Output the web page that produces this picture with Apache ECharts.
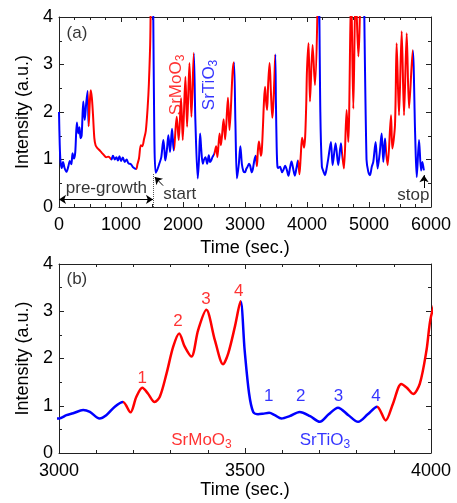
<!DOCTYPE html>
<html>
<head>
<meta charset="utf-8">
<script src="https://cdn.jsdelivr.net/npm/echarts@6/dist/echarts.min.js"></script>
<style>
html, body { margin: 0; padding: 0; background: #fff; }
#main { width: 457px; height: 503px; }
</style>
</head>
<body>
<div id="main"></div>
<script>
// RHEED intensity trace; panel (b) is a zoom of the same trace
var timeSec = [0, 12, 25, 45, 65, 90, 120, 150, 175, 200, 218, 240, 262, 288, 310, 330, 348, 365, 392, 415,
    440, 462, 478, 497, 512, 530, 548, 570, 590, 620, 650, 690, 720, 760, 800, 845, 870, 900, 925, 950,
    975, 1000, 1030, 1060, 1090, 1120, 1160, 1200, 1245, 1265, 1290, 1320, 1345, 1370, 1400, 1430, 1450, 1473, 1498, 1540,
    1560, 1590, 1618, 1650, 1683, 1700, 1715, 1740, 1764, 1791, 1823, 1850, 1862, 1899, 1931, 1969, 1996, 2039, 2066, 2104,
    2136, 2174, 2200, 2238, 2258, 2276, 2295, 2319, 2340, 2362, 2389, 2416, 2435, 2454, 2475, 2505, 2535, 2555, 2590, 2612,
    2655, 2680, 2725, 2750, 2800, 2822, 2845, 2870, 2900, 2925, 2950, 2975, 3000, 3020, 3038, 3065, 3083, 3109, 3127, 3150,
    3172, 3192, 3208, 3224, 3239, 3257, 3271, 3289, 3307, 3323, 3338, 3356, 3374, 3396, 3419, 3441, 3455, 3473, 3488, 3499,
    3511, 3522, 3535, 3548, 3565, 3580, 3598, 3620, 3647, 3675, 3701, 3725, 3750, 3778, 3804, 3830, 3855, 3878, 3898, 3920,
    3935, 3952, 3970, 3988, 4000, 4025, 4048, 4090, 4128, 4165, 4182, 4215, 4240, 4265, 4289, 4315, 4343, 4386, 4413, 4461,
    4504, 4547, 4568, 4596, 4639, 4666, 4712, 4747, 4785, 4828, 4890, 4960, 4989, 5016, 5045, 5069, 5107, 5139, 5170, 5204,
    5231, 5258, 5280, 5301, 5355, 5376, 5419, 5446, 5484, 5527, 5565, 5608, 5646, 5705, 5745, 5770, 5807, 5840, 5861, 5885];
var intensity = [2.0, 1.3, 0.95, 0.82, 0.95, 0.82, 0.74, 0.85, 0.97, 0.9, 1.13, 1.02, 1.15, 1.78, 1.55, 1.68, 1.45, 1.5, 2.22, 1.83,
    2.2, 2.44, 1.7, 2.2, 2.46, 2.3, 1.95, 1.45, 1.3, 1.24, 1.2, 1.14, 1.1, 1.05, 1.06, 1.0, 1.08, 1.0, 1.05, 0.98,
    1.07, 0.97, 1.04, 0.95, 1.0, 0.92, 0.9, 0.83, 0.8, 0.9, 1.02, 1.3, 1.28, 1.42, 1.6, 2.1, 2.6, 3.59, 6.5, 1.3,
    0.72, 0.8, 0.91, 1.05, 1.41, 1.2, 0.98, 1.2, 1.51, 1.16, 1.65, 1.19, 1.3, 1.9, 1.41, 2.29, 1.41, 2.74, 1.69, 3.03,
    1.9, 3.24, 1.8, 0.6, 1.0, 1.55, 1.2, 0.91, 1.0, 1.05, 0.91, 1.09, 0.95, 0.98, 1.05, 1.12, 1.28, 1.05, 1.55, 1.3,
    1.85, 1.42, 2.3, 1.62, 2.85, 3.05, 1.8, 0.6, 0.9, 1.28, 0.9, 0.75, 0.73, 0.8, 0.84, 0.91, 0.87, 0.73, 0.8, 0.98,
    1.08, 0.86, 1.19, 1.38, 1.26, 1.08, 1.19, 1.68, 2.25, 2.53, 2.25, 2.04, 2.6, 3.03, 2.39, 1.88, 2.11, 2.68, 3.21, 2.18,
    1.26, 0.87, 0.82, 0.83, 0.85, 0.8, 0.73, 0.78, 0.87, 0.78, 0.66, 0.82, 0.96, 0.8, 0.66, 0.82, 0.98, 0.69, 1.05, 1.46,
    1.38, 1.25, 1.47, 2.18, 2.89, 3.45, 2.22, 3.41, 2.57, 3.9, 6.0, 2.0, 0.85, 0.75, 0.67, 0.8, 1.02, 1.37, 0.88, 1.34,
    0.88, 1.34, 1.1, 0.81, 2.04, 1.37, 4.6, 2.07, 4.6, 3.17, 6.0, 1.0, 0.74, 0.67, 0.85, 0.95, 1.37, 0.81, 1.1, 1.55,
    0.95, 1.44, 1.1, 0.88, 1.93, 1.23, 1.72, 3.45, 1.93, 3.7, 1.93, 3.66, 2.08, 3.3, 1.5, 0.63, 1.41, 0.77, 0.95, 0.77];
// times where the deposited layer switches (trace starts blue: pre-growth / SrTiO3)
var switchTimes = [466, 845, 1245, 1498, 1862, 2174, 2505, 2822, 3172, 3488, 3855, 4182, 4568, 4890, 5280, 5705];
var layerColors = ['#0000ff', '#ff0000'];

var font = 'Liberation Sans, Arial, Helvetica, sans-serif';
var axisColor = '#222';

var trace = timeSec.map(function (t, i) { return [t, intensity[i]]; });

var pieces = [];
for (var i = 0; i <= switchTimes.length; i++) {
    var p = { color: layerColors[i % 2] };
    if (i > 0) p.gte = switchTimes[i - 1];
    if (i < switchTimes.length) p.lt = switchTimes[i];
    pieces.push(p);
}

function xAxis(grid, min, max, interval, minor, pos, name, gap) {
    return {
        type: 'value', gridIndex: grid, position: pos, min: min, max: max, interval: interval,
        name: name, nameLocation: 'middle', nameGap: gap,
        nameTextStyle: { fontFamily: font, fontSize: 18, color: '#000' },
        axisLine: { show: true, onZero: false, lineStyle: { color: axisColor, width: 1 } },
        axisTick: { show: true, inside: true, length: 5, lineStyle: { color: axisColor } },
        minorTick: { show: true, splitNumber: minor, length: 3, lineStyle: { color: axisColor } },
        axisLabel: {
            show: pos === 'bottom', margin: 9, fontFamily: font, fontSize: 18, color: '#000',
            formatter: function (v) { return String(v); }
        },
        splitLine: { show: false }
    };
}
function yAxis(grid, pos, name) {
    return {
        type: 'value', gridIndex: grid, position: pos, min: 0, max: 4, interval: 1,
        name: name, nameLocation: 'middle', nameGap: 21, nameRotate: 90,
        nameTextStyle: { fontFamily: font, fontSize: 18, color: '#000' },
        axisLine: { show: true, onZero: false, lineStyle: { color: axisColor, width: 1 } },
        axisTick: { show: true, inside: true, length: 5, lineStyle: { color: axisColor } },
        minorTick: { show: true, splitNumber: 2, length: 3, lineStyle: { color: axisColor } },
        axisLabel: { show: pos === 'left', margin: 6, fontFamily: font, fontSize: 18, color: '#000' },
        splitLine: { show: false }
    };
}

var rich = { s: { fontSize: 12, lineHeight: 10, verticalAlign: 'bottom' } };
function note(text, t, v, color, rotate) {
    return {
        value: [t, v],
        label: { formatter: text, color: color, rotate: rotate || 0 }
    };
}
function arrow(p0, p1, head0, head1, style) {
    return [
        { coord: p0, symbol: head0, symbolSize: 7 },
        { coord: p1, symbol: head1, symbolSize: 7, lineStyle: style }
    ];
}
var solid = { color: '#000', width: 1, type: 'solid' };

var notesA = [
    note('(a)', 290, 3.66, '#000'),
    note('pre-growth', 765, 0.40, '#000'),
    note('start', 1948, 0.27, '#000'),
    note('stop', 5714, 0.24, '#000'),
    note('SrMoO{s|3}', 1895, 2.57, layerColors[1], 90),
    note('SrTiO{s|3}', 2425, 2.57, layerColors[0], 90)
];
var notesB = [
    note('(b)', 3048, 3.68, '#000'),
    note('1', 3224, 1.59, layerColors[1]),
    note('2', 3320, 2.78, layerColors[1]),
    note('3', 3395, 3.26, layerColors[1]),
    note('4', 3483, 3.42, layerColors[1]),
    note('1', 3564, 1.19, layerColors[0]),
    note('2', 3650, 1.19, layerColors[0]),
    note('3', 3751, 1.19, layerColors[0]),
    note('4', 3852, 1.19, layerColors[0]),
    note('SrMoO{s|3}', 3383, 0.27, layerColors[1]),
    note('SrTiO{s|3}', 3715, 0.27, layerColors[0])
];

var noteLabel = {
    show: true, position: 'inside', fontFamily: font, fontSize: 17, lineHeight: 21, rich: rich
};

var myChart = echarts.init(document.getElementById('main'));
var option = {
    animation: false,
    backgroundColor: '#fff',
    grid: [
        { left: 59, top: 17, right: 26, height: 190 },
        { left: 59, top: 264, right: 26, height: 189 }
    ],
    xAxis: [
        xAxis(0, 0, 6000, 1000, 4, 'bottom', 'Time (sec.)', 32),
        xAxis(0, 0, 6000, 1000, 4, 'top', '', 0),
        xAxis(1, 3000, 4000, 500, 5, 'bottom', 'Time (sec.)', 28),
        xAxis(1, 3000, 4000, 500, 5, 'top', '', 0)
    ],
    yAxis: [
        yAxis(0, 'left', 'Intensity (a.u.)'),
        yAxis(0, 'right', ''),
        yAxis(1, 'left', 'Intensity (a.u.)'),
        yAxis(1, 'right', '')
    ],
    visualMap: [
        { type: 'piecewise', show: false, dimension: 0, seriesIndex: 0, pieces: pieces },
        { type: 'piecewise', show: false, dimension: 0, seriesIndex: 1, pieces: pieces }
    ],
    series: [
        {
            type: 'line', xAxisIndex: 0, yAxisIndex: 0, data: trace,
            showSymbol: false, smooth: 0.3, clip: true,
            lineStyle: { width: 2 }
        },
        {
            type: 'line', xAxisIndex: 2, yAxisIndex: 2, data: trace,
            showSymbol: false, smooth: 0.3, clip: true,
            lineStyle: { width: 2.5 }
        },
        {
            type: 'scatter', xAxisIndex: 0, yAxisIndex: 0, symbolSize: 0, silent: true,
            data: notesA, label: noteLabel,
            markLine: {
                silent: true, animation: false, label: { show: false },
                data: [
                    arrow([0, 0.16], [1516, 0.16], 'arrow', 'arrow', solid),
                    arrow([1516, 0], [1516, 0.7], 'none', 'none', { color: '#555', width: 1, type: 'dotted' }),
                    arrow([1679, 0.45], [1545, 0.63], 'none', 'arrow', solid),
                    arrow([5887, 0.4], [5887, 0.67], 'none', 'arrow', solid)
                ]
            }
        },
        {
            type: 'scatter', xAxisIndex: 2, yAxisIndex: 2, symbolSize: 0, silent: true,
            data: notesB, label: noteLabel
        }
    ]
};
myChart.setOption(option);
</script>
</body>
</html>
